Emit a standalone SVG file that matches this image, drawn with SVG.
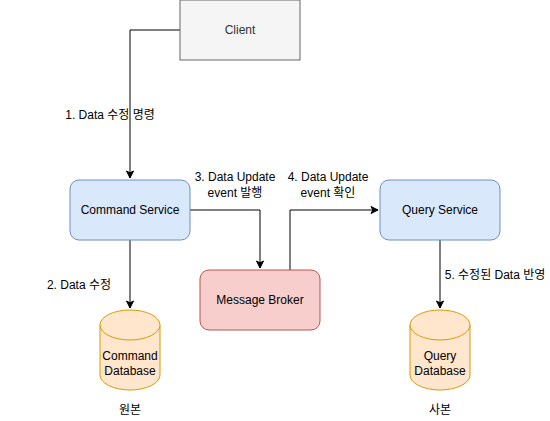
<svg xmlns="http://www.w3.org/2000/svg" width="550" height="421" viewBox="0 0 550 421">
<style>
text{font-family:"Liberation Sans","Noto Sans CJK KR",sans-serif;font-size:12px;fill:#000}
.c{text-anchor:middle}
.edge{fill:none;stroke:#000;stroke-width:1}
.svc{fill:#dae8fc;stroke:#6c8ebf}
.db{fill:#ffe6cc;stroke:#d79b00}
</style>
<defs>
<marker id="arr" markerWidth="10" markerHeight="10" refX="8" refY="5" orient="auto" markerUnits="userSpaceOnUse">
<path d="M1,1.5 L8,5 L1,8.5 L2.8,5 Z" fill="#000" stroke="#000" stroke-width="1"/>
</marker>
</defs>
<rect width="550" height="421" fill="#fff"/>
<g id="connectors">
<path class="edge" d="M180,30 H130 V178" marker-end="url(#arr)"/>
<path class="edge" d="M130,240 V308" marker-end="url(#arr)"/>
<path class="edge" d="M190,210 H260 V268" marker-end="url(#arr)"/>
<path class="edge" d="M290,270 V210 H378" marker-end="url(#arr)"/>
<path class="edge" d="M440,240 V308" marker-end="url(#arr)"/>
<text x="110" y="119" class="c">1. Data 수정 명령</text>
<text x="79" y="289" class="c">2. Data 수정</text>
<text x="235" y="181" class="c">3. Data Update</text>
<text x="235" y="197" class="c">event 발행</text>
<text x="328" y="181" class="c">4. Data Update</text>
<text x="328" y="197" class="c">event 확인</text>
<text x="495" y="279" class="c">5. 수정된 Data 반영</text>
</g>
<g id="client">
<rect x="180" y="0" width="120" height="60" fill="#f5f5f5" stroke="#666666"/>
<text x="240" y="34" class="c" style="fill:#333">Client</text>
</g>
<g id="command-service">
<rect x="70" y="180" width="120" height="60" rx="9" class="svc"/>
<text x="130" y="214" class="c">Command Service</text>
</g>
<g id="message-broker">
<rect x="200" y="270" width="120" height="60" rx="9" fill="#f8cecc" stroke="#b85450"/>
<text x="260" y="304" class="c">Message Broker</text>
</g>
<g id="query-service">
<rect x="380" y="180" width="120" height="60" rx="9" class="svc"/>
<text x="440" y="214" class="c">Query Service</text>
</g>
<g id="command-database">
<path class="db" d="M100,325 A30,15 0 0 1 160,325 V375 A30,15 0 0 1 100,375 Z"/>
<path class="db" d="M100,325 A30,15 0 0 0 160,325" fill="none"/>
<text x="130" y="360" class="c">Command</text>
<text x="130" y="375" class="c">Database</text>
<text x="130" y="414" class="c">원본</text>
</g>
<g id="query-database">
<path class="db" d="M410,325 A30,15 0 0 1 470,325 V375 A30,15 0 0 1 410,375 Z"/>
<path class="db" d="M410,325 A30,15 0 0 0 470,325" fill="none"/>
<text x="440" y="360" class="c">Query</text>
<text x="440" y="375" class="c">Database</text>
<text x="440" y="414" class="c">사본</text>
</g>
</svg>
